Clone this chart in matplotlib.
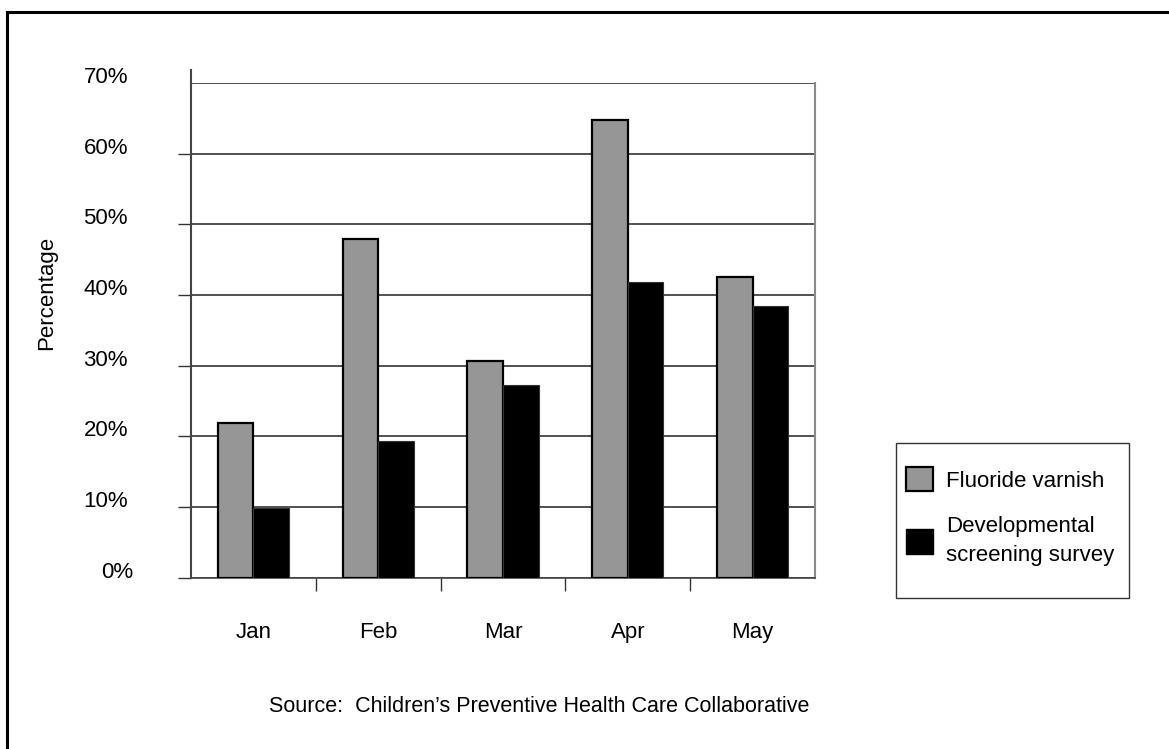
"""
grouped bar chart: fluoride varnish vs developmental screening survey
"""
import numpy as np
import matplotlib.pyplot as plt
from matplotlib.lines import Line2D
from matplotlib.patches import Patch, Rectangle
from matplotlib.ticker import FuncFormatter, FixedLocator
import matplotlib.transforms as mtransforms

plt.rcParams['font.family'] = ['Liberation Sans', 'DejaVu Sans']

months = ["Jan", "Feb", "Mar", "Apr", "May"]
fluoride = [0.219, 0.479, 0.306, 0.647, 0.425]
screening = [0.098, 0.193, 0.273, 0.419, 0.384]
series_names = ["Fluoride varnish", "Developmental\nscreening survey"]
yticks = [0.0, 0.1, 0.2, 0.3, 0.4, 0.5, 0.6, 0.7]
source = "Source:  Children\u2019s Preventive Health Care Collaborative"

W, H = 1169, 749
FS = 16
fig = plt.figure(figsize=(W/100, H/100), dpi=100)
ax = fig.add_axes([191/W, (H-577.5)/H, 624/W, 494.5/H])

x = np.arange(len(months))
bw = 0.286
ax.bar(x - bw/2, fluoride, bw, color='#969696', edgecolor='black', linewidth=1.6, zorder=3)
ax.bar(x + bw/2, screening, bw, color='black', edgecolor='#333333', linewidth=0.8, zorder=3)

ax.set_xlim(-0.5, len(months) - 0.5)
ax.set_ylim(0, 0.7)

#gridlines
ax.set_yticks(yticks)
ax.yaxis.grid(True, color='#222222', linewidth=1.1, zorder=1)
ax.set_axisbelow(True)
ax.yaxis.set_major_formatter(FuncFormatter(lambda v, p: "%d%%" % round(v*100)))
ax.tick_params(axis='y', length=9.4, width=1, color='#333333', pad=36, labelsize=FS)
ax.yaxis.get_major_ticks()[-1].tick1line.set_visible(False)

#labels sit a bit above their gridline (0% a bit further right, like the original)
labs = ax.get_yticklabels()
for i, lab in enumerate(labs):
    dx = 5/100 if i == 0 else 0
    off = mtransforms.ScaledTranslation(dx, 8/100, fig.dpi_scale_trans)
    lab.set_transform(lab.get_transform() + off)

ax.set_xticks(x)
ax.set_xticklabels(months)
ax.tick_params(axis='x', which='major', length=0, pad=32, labelsize=FS)
ax.xaxis.set_minor_locator(FixedLocator(x[:-1] + 0.5))
ax.tick_params(axis='x', which='minor', length=9.4, width=1, color='#333333')

ax.spines['top'].set_visible(False)
ax.spines['left'].set_color('#444444')
ax.spines['left'].set_linewidth(1.5)
ax.spines['right'].set_color('#8a8a8a')
ax.spines['right'].set_linewidth(1.5)
ax.spines['bottom'].set_color('#444444')
ax.spines['bottom'].set_linewidth(1.2)
ax.plot([0, 0], [0.7, 0.718], transform=ax.get_yaxis_transform(),
        color='#444444', linewidth=1.5, clip_on=False)

ax.set_ylabel("Percentage", fontsize=FS)
ax.yaxis.set_label_coords((57-191)/624, (577.5-293)/494.5)

#legend: frame drawn separately so the padding can be uneven
fig.add_artist(Rectangle((896/W, 1 - 598/H), 233/W, 155/H, transform=fig.transFigure,
                         facecolor='white', edgecolor='#333333', linewidth=1.0, zorder=4))
handles = [Patch(facecolor='#969696', edgecolor='black', linewidth=1.6),
           Patch(facecolor='black', edgecolor='black')]
leg = fig.legend(handles, series_names, loc='upper left',
                 bbox_to_anchor=(906/W, 1 - 467/H), fontsize=FS,
                 frameon=False, borderpad=0,
                 handlelength=1.2, handleheight=1.3, handletextpad=0.6,
                 labelspacing=1.1, borderaxespad=0)
leg.set_zorder(5)
for t in leg.get_texts():
    t.set_linespacing(1.5)
    t.set_multialignment('left')

fig.text(539/W, 1 - 706/H, source, fontsize=15.5, ha='center', va='center')

#outer frame, only top and left edges visible
fig.add_artist(Line2D([7/W, 7/W], [0, 1 - 12/H], color='black', linewidth=2.2))
fig.add_artist(Line2D([7/W, 1], [1 - 12/H, 1 - 12/H], color='black', linewidth=2.2))

fig.savefig("out.png", dpi=100)
